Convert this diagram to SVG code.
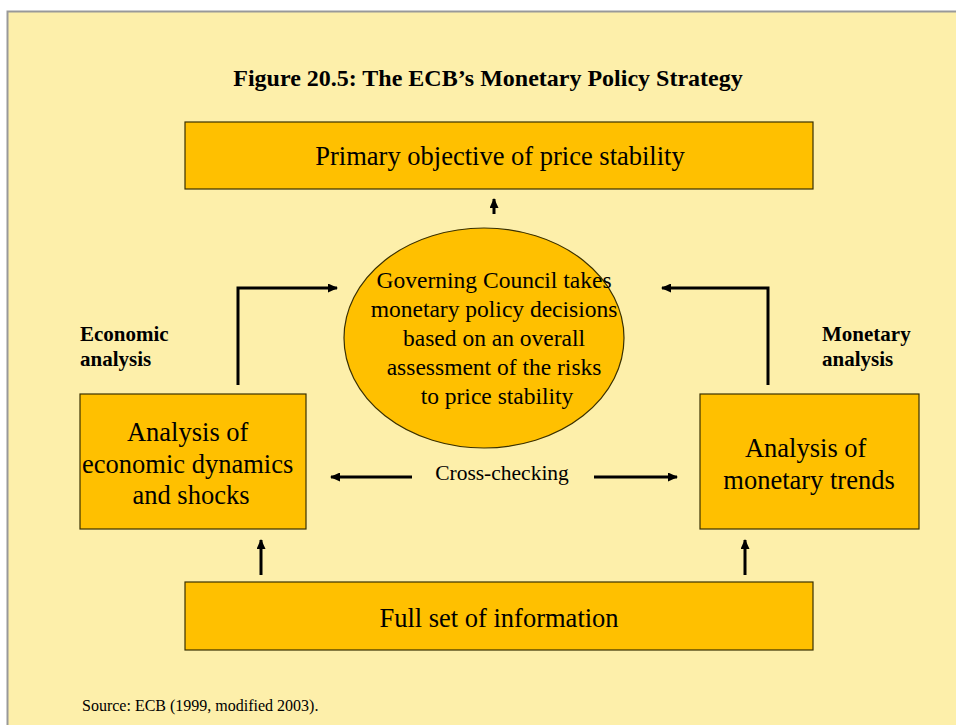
<svg xmlns="http://www.w3.org/2000/svg" width="956" height="725" viewBox="0 0 956 725">
<defs>
<style>
.t{font-family:"Liberation Serif","Times New Roman",serif;fill:#000;}
.box{fill:#FFC000;stroke:#3a3000;stroke-width:1.2;}
.ln{fill:none;stroke:#000;stroke-width:3;}
</style>
<marker id="ah" markerWidth="10" markerHeight="9" refX="9" refY="4.5" orient="auto" markerUnits="userSpaceOnUse">
<path d="M0,0 L10,4.5 L0,9 Z" fill="#000"/>
</marker>
</defs>
<rect x="0" y="0" width="956" height="725" fill="#fff"/>
<rect x="7.5" y="11.5" width="960" height="730" fill="#FDEFAA" stroke="#999" stroke-width="2"/>
<text class="t" x="488" y="86" font-size="24" font-weight="bold" text-anchor="middle">Figure 20.5: The ECB’s Monetary Policy Strategy</text>

<g id="objective">
<rect class="box" x="185" y="122" width="628" height="67"/>
<text class="t" x="500" y="165" font-size="26.5" text-anchor="middle">Primary objective of price stability</text>
</g>

<g id="council">
<ellipse cx="484" cy="338" rx="140" ry="110" fill="#FFC000" stroke="#3a3000" stroke-width="1.2"/>
<text class="t" font-size="23.5" text-anchor="middle">
<tspan x="497" y="288">Governing Council takes</tspan>
<tspan x="497" y="317">monetary policy decisions</tspan>
<tspan x="497" y="346">based on an overall</tspan>
<tspan x="497" y="375">assessment of the risks</tspan>
<tspan x="497" y="404">to price stability</tspan>
</text>
</g>

<g id="economic-label">
<text class="t" font-size="21" font-weight="bold"><tspan x="80" y="341">Economic</tspan><tspan x="80" y="366">analysis</tspan></text>
</g>
<g id="monetary-label">
<text class="t" font-size="21" font-weight="bold"><tspan x="822" y="341">Monetary</tspan><tspan x="822" y="366">analysis</tspan></text>
</g>

<g id="economic">
<rect class="box" x="80" y="394" width="226" height="135"/>
<text class="t" font-size="26.5" text-anchor="middle">
<tspan x="191" y="441">Analysis of</tspan>
<tspan x="191" y="473">economic dynamics</tspan>
<tspan x="191" y="504">and shocks</tspan>
</text>
</g>

<g id="monetary">
<rect class="box" x="700" y="394" width="219" height="135"/>
<text class="t" font-size="26.5" text-anchor="middle">
<tspan x="809" y="457">Analysis of</tspan>
<tspan x="809" y="489">monetary trends</tspan>
</text>
</g>

<g id="cross-label">
<text class="t" x="502" y="480" font-size="21.5" text-anchor="middle">Cross-checking</text>
</g>

<g id="information">
<rect class="box" x="185" y="582" width="628" height="68"/>
<text class="t" x="499" y="627" font-size="26.5" text-anchor="middle">Full set of information</text>
</g>

<g id="source">
<text class="t" x="82" y="711" font-size="16">Source: ECB (1999, modified 2003).</text>
</g>

<g id="connectors">
<path class="ln" d="M494,214 V199" marker-end="url(#ah)"/>
<path class="ln" d="M238,385 V288 H337" marker-end="url(#ah)"/>
<path class="ln" d="M768,385 V288 H662" marker-end="url(#ah)"/>
<path class="ln" d="M412,477 H331" marker-end="url(#ah)"/>
<path class="ln" d="M594,477 H677" marker-end="url(#ah)"/>
<path class="ln" d="M261,575 V540" marker-end="url(#ah)"/>
<path class="ln" d="M745,575 V540" marker-end="url(#ah)"/>
</g>
</svg>
